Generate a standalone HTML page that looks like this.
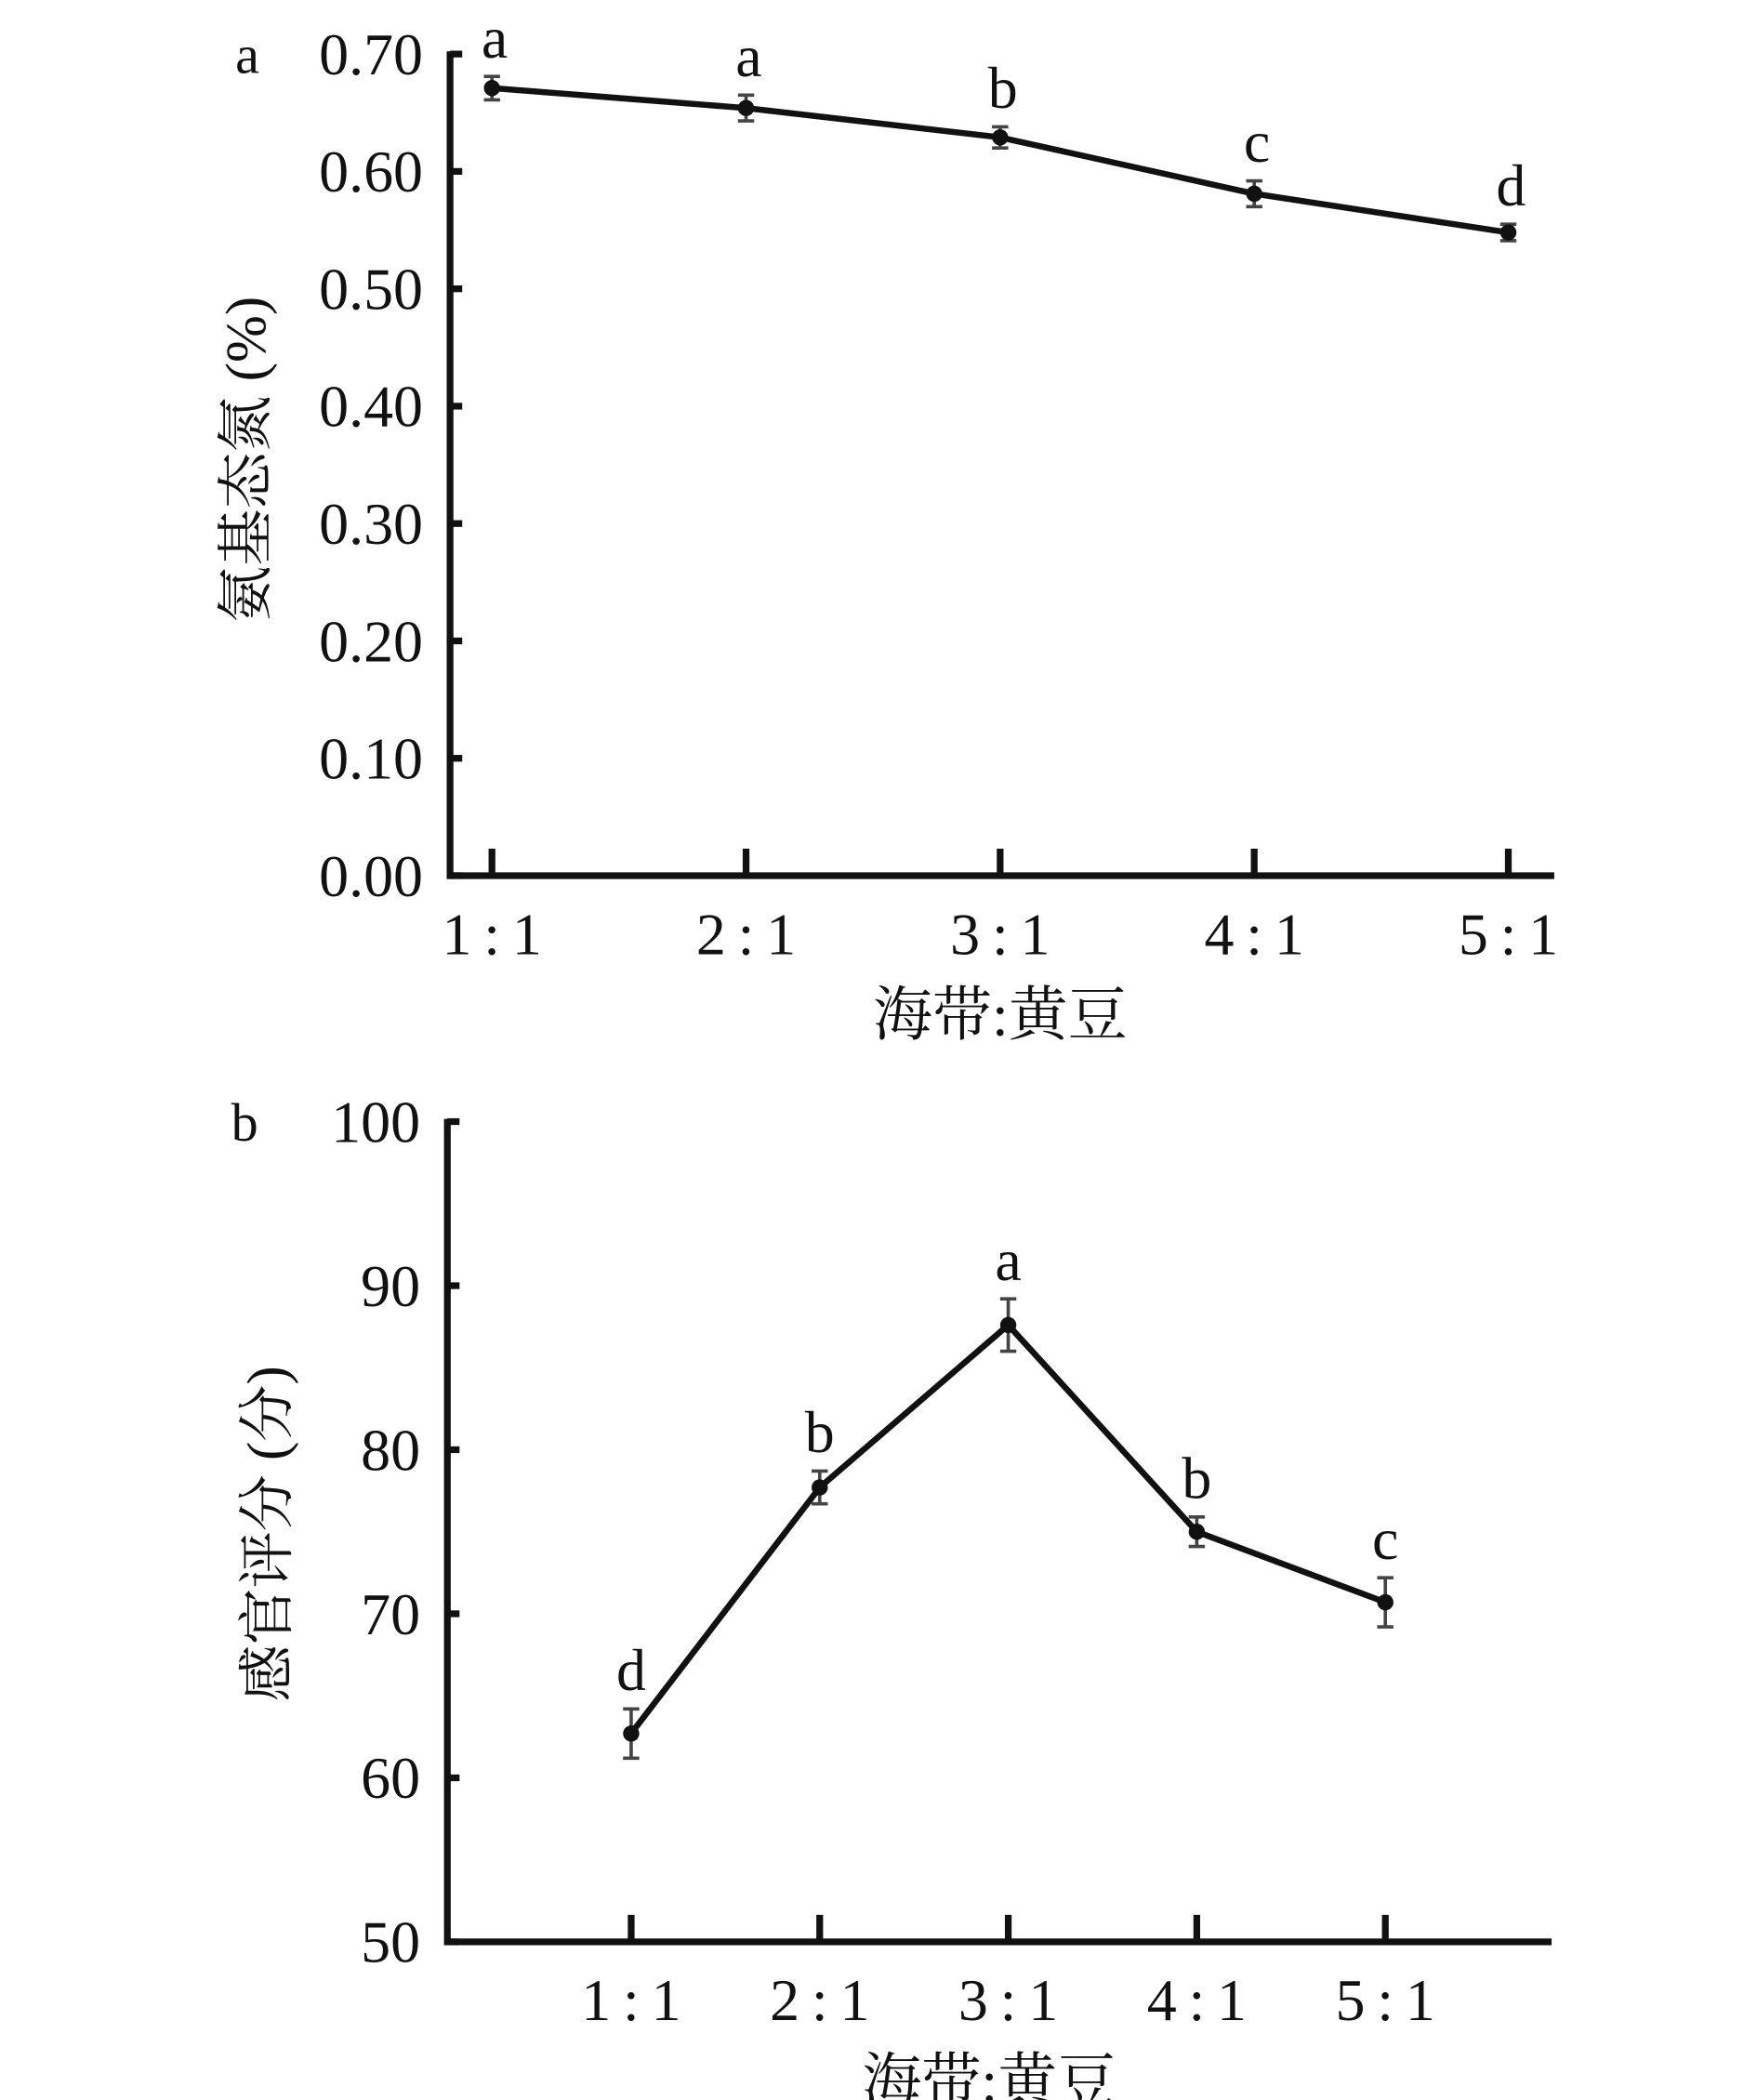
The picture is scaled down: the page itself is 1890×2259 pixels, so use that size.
<!DOCTYPE html>
<html><head><meta charset="utf-8"><style>
html,body{margin:0;padding:0;background:#fff;}
svg{display:block;}
text{font-family:"Liberation Serif","Noto Serif CJK SC",serif;fill:#111;}
</style></head><body>
<svg id="chart" width="1890" height="2259" viewBox="0 0 1300 1554" preserveAspectRatio="none" xmlns="http://www.w3.org/2000/svg"></svg>
<script>
const categories = ["1:1","2:1","3:1","4:1","5:1"];
const aValues = [0.671, 0.654, 0.629, 0.581, 0.548];
const aErrors = [0.010, 0.011, 0.009, 0.011, 0.007];
const aLetters = ["a","a","b","c","d"];
const aTicks = ["0.00","0.10","0.20","0.30","0.40","0.50","0.60","0.70"];
const bValues = [62.7, 77.7, 87.6, 75.0, 70.7];
const bErrors = [1.5, 1.0, 1.6, 0.9, 1.5];
const bLetters = ["d","b","a","b","c"];
const bTicks = ["50","60","70","80","90","100"];

const svg = document.getElementById('chart');
const NS = 'http://www.w3.org/2000/svg';
function mk(tag, attrs, parent){const e=document.createElementNS(NS,tag);for(const k in attrs)e.setAttribute(k,attrs[k]);(parent||svg).appendChild(e);return e;}

function panel(cfg){
  const g = mk('g',{});
  
  
  const y = v => cfg.y0 - (v - cfg.vmin)/(cfg.vmax-cfg.vmin)*(cfg.y0-cfg.y1);
  const x = i => cfg.xs0 + i*cfg.xstep;
  const ax = mk('path',{d:`M${cfg.ax} ${cfg.y1-2} V${cfg.y0} H${cfg.xEnd}`,stroke:'#111','stroke-width':5,fill:'none'},g);
  
  
  cfg.ticks.forEach(t=>{
    const v=parseFloat(t), yy=y(v);
    const tk=mk('line',{x1:cfg.ax,x2:cfg.ax+9,y1:yy,y2:yy,stroke:'#111','stroke-width':5},g);
    
    
    const tl=mk('text',{x:cfg.ax-20,y:yy+15,'font-size':44,'text-anchor':'end'},g);
    tl.textContent=t;
    
    
  });
  categories.forEach((c,i)=>{
    const tk=mk('line',{x1:x(i),x2:x(i),y1:cfg.y0,y2:cfg.y0-20,stroke:'#111','stroke-width':5},g);
    
    
    const tl=mk('text',{x:x(i),y:cfg.y0+58,'font-size':44,'text-anchor':'middle'},g);
    tl.textContent=c.replace(':','\u2009:\u2009');
    
    
  });
  const pts=cfg.values.map((v,i)=>`${x(i)},${y(v)}`).join(' ');
  const ln=mk('polyline',{points:pts,fill:'none',stroke:'#111','stroke-width':4.5,'stroke-linejoin':'round'},g);
  
  
  cfg.values.forEach((v,i)=>{
    const hi=y(v+cfg.errors[i]), lo=y(v-cfg.errors[i]);
    const eb=mk('path',{d:`M${x(i)} ${hi} V${lo} M${x(i)-6} ${hi} H${x(i)+6} M${x(i)-6} ${lo} H${x(i)+6}`,stroke:'#444','stroke-width':2.5,fill:'none'},g);
    
    
    const p=mk('circle',{cx:x(i),cy:y(v),r:6,fill:'#111'},g);
    
    
    const lt=mk('text',{x:x(i)+cfg.letterDx,y:hi-14,'font-size':44,'text-anchor':'middle'},g);
    lt.textContent=cfg.letters[i];
    
    
  });
  const pl=mk('text',{x:cfg.ax-150,y:cfg.y1+14,'font-size':40,'text-anchor':'middle'},g);
  pl.textContent=cfg.panel;
  
  
  const yt=mk('text',{x:0,y:0,'font-size':42,'text-anchor':'middle',transform:`translate(${cfg.ytx},${cfg.yty}) rotate(-90)`},g);
  yt.textContent=cfg.ytitle;
  
  
  const xt=mk('text',{x:cfg.xtx,y:cfg.y0+118,'font-size':44,'text-anchor':'middle'},g);
  xt.textContent='海带:黄豆';
  
  
}
panel({name:'panel-a',panel:'a',ax:333,y0:648,y1:40,vmin:0,vmax:0.7,xEnd:1150,xs0:364,xstep:188,
  values:aValues,errors:aErrors,letters:aLetters,ticks:aTicks,letterDx:2,ytitle:'氨基态氮 (%)',ytx:196,yty:340,xtx:740});
panel({name:'panel-b',panel:'b',ax:331,y0:1437,y1:830,vmin:50,vmax:100,xEnd:1148,xs0:467,xstep:139.5,
  values:bValues,errors:bErrors,letters:bLetters,ticks:bTicks,letterDx:0,ytitle:'感官评分 (分)',ytx:212,yty:1135,xtx:732});
</script>
</body></html>
